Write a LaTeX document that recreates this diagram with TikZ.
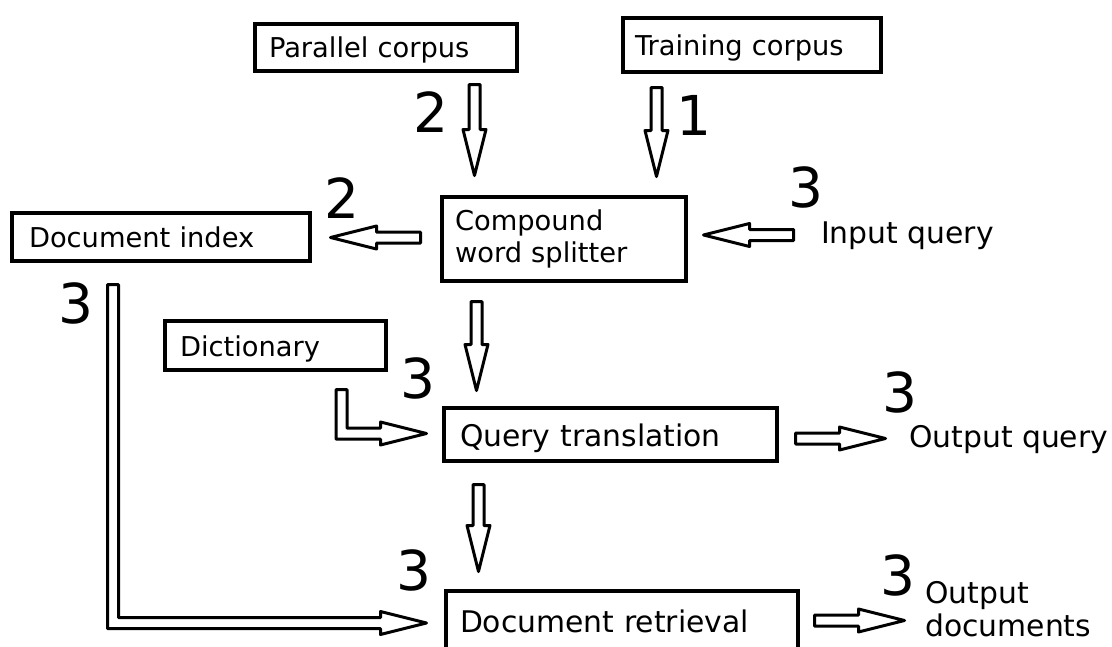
\documentclass[tikz,border=0pt]{standalone}
\usepackage{fontspec}
\setmainfont{DejaVu Sans}
\usetikzlibrary{calc}
\tikzset{
  boxn/.style={draw, line width=3.7pt, inner xsep=0pt, inner ysep=0pt, align=left,
    font=\fontsize{27.3}{32}\selectfont},
  bigtext/.style={font=\fontsize{29.8}{33}\selectfont},
  barrow/.style={draw, line width=3pt, line join=round, fill=white},
  bignum/.style={font=\fontsize{55}{55}\selectfont, anchor=base, inner sep=0pt},
  lbl/.style={font=\fontsize{29.8}{33}\selectfont, anchor=base west, inner sep=0pt, align=left},
}
% straight block arrow: #1 start, #2 tip
\newcommand\blockarrow[2]{%
  \path ($(#2)!46pt!(#1)$) coordinate (bah);
  \draw[barrow] ($(#1)!5.5pt!90:(#2)$) -- ($(bah)!5.5pt!90:(#2)$) -- ($(bah)!11.5pt!90:(#2)$)
    -- (#2) -- ($(bah)!11.5pt!-90:(#2)$) -- ($(bah)!5.5pt!-90:(#2)$) -- ($(#1)!5.5pt!-90:(#2)$) -- cycle;
}
% L-shaped block arrow (down then right): #1 start, #2 corner, #3 tip
\newcommand\lblockarrow[3]{%
  \path ($(#3)!46pt!(#2)$) coordinate (bah);
  \draw[barrow] ($(#1)+(-5.5,0)$) -- ($(#2)+(-5.5,5.5)$) -- ($(bah)+(0,5.5)$) -- ($(bah)+(0,11.5)$)
    -- (#3) -- ($(bah)+(0,-11.5)$) -- ($(bah)+(0,-5.5)$) -- ($(#2)+(5.5,-5.5)$) -- ($(#1)+(5.5,0)$) -- cycle;
}
\begin{document}
\begin{tikzpicture}[x=1pt, y=-1pt]
\useasboundingbox (0,0) rectangle (1112,646);
\fill[white] (0,0) rectangle (1112,646);

% boxes
\node[boxn, minimum width=262pt, minimum height=47pt, text width=234pt, text height=25pt, text depth=6pt] (par) at (386,47.5) {Parallel corpus};
\node[boxn, minimum width=258pt, minimum height=54pt, text width=234pt, text height=26pt, text depth=6pt] (train) at (752,45) {Training corpus};
\node[boxn, minimum width=244pt, minimum height=84pt, text width=218pt] (split) at (564,239) {Compound\\word splitter};
\node[boxn, minimum width=298pt, minimum height=48pt, text width=264pt, text height=26pt, text depth=6pt] (idx) at (161,237) {Document index};
\node[boxn, minimum width=221pt, minimum height=49pt, text width=191pt, text height=27pt, text depth=6pt] (dict) at (275.5,345.5) {Dictionary};
\node[boxn, bigtext, minimum width=333pt, minimum height=53pt, text width=301pt, text height=29pt, text depth=6pt] (qt) at (610.5,434.5) {Query translation};
\node[boxn, bigtext, minimum width=352pt, minimum height=64pt, text width=324pt, text height=24pt, text depth=6pt] (dr) at (622,623) {Document retrieval};

% free labels
\node[lbl] (inq) at (821,243) {Input query};
\node[lbl] (outq) at (909,447) {Output query};
\node[lbl] (outd) at (925,636) {Output\\documents};

% step numbers
\node[bignum] (n1) at (431,132) {2};
\node[bignum] (n2) at (694,135) {1};
\node[bignum] (n3) at (342,218) {2};
\node[bignum] (n4) at (806,207) {3};
\node[bignum] (n5) at (76,323) {3};
\node[bignum] (n6) at (418,398) {3};
\node[bignum] (n7) at (900,412) {3};
\node[bignum] (n8) at (414,590) {3};
\node[bignum] (n9) at (898,595) {3};

% arrow end points
\coordinate (a1s) at (474.5,84.5);  \coordinate (a1t) at (474.5,175.5);
\coordinate (a2s) at (656.5,87.5);  \coordinate (a2t) at (656.5,176.5);
\coordinate (a3s) at (420.5,237.5); \coordinate (a3t) at (330.5,237.5);
\coordinate (a4s) at (793.5,235);   \coordinate (a4t) at (703.5,235);
\coordinate (a5s) at (476.5,301.5); \coordinate (a5t) at (476.5,390.5);
\coordinate (a6s) at (478.5,484.5); \coordinate (a6t) at (478.5,571.5);
\coordinate (a7s) at (795.5,438.5); \coordinate (a7t) at (885.5,438.5);
\coordinate (a8s) at (814.5,620.5); \coordinate (a8t) at (904.5,620.5);
\coordinate (l1s) at (341.5,389.5); \coordinate (l1c) at (341.5,433.5); \coordinate (l1t) at (426.5,433.5);
\coordinate (l2s) at (113,284.5);   \coordinate (l2c) at (113,623);     \coordinate (l2t) at (426.5,623);

\blockarrow{a1s}{a1t}
\blockarrow{a2s}{a2t}
\blockarrow{a3s}{a3t}
\blockarrow{a4s}{a4t}
\blockarrow{a5s}{a5t}
\blockarrow{a6s}{a6t}
\blockarrow{a7s}{a7t}
\blockarrow{a8s}{a8t}
\lblockarrow{l1s}{l1c}{l1t}
\lblockarrow{l2s}{l2c}{l2t}
\end{tikzpicture}
\end{document}
